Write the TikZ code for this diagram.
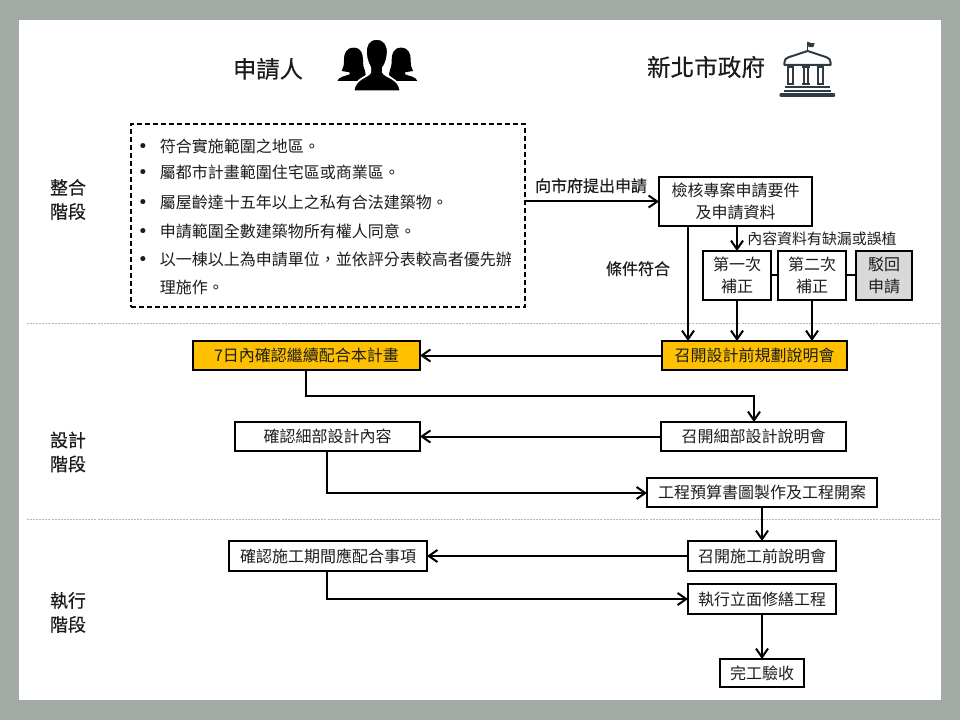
\documentclass[tikz,border=0pt]{standalone}
\usepackage{fontspec}
\setmainfont{Noto Sans CJK TC}
\newfontfamily\heavyfont[FakeBold=0.45]{Noto Sans CJK TC}
\newfontfamily\dotfont{DejaVu Sans}
\usetikzlibrary{arrows.meta}
\definecolor{bggrey}{HTML}{A3ABA4}
\definecolor{amber}{HTML}{FFC000}
\definecolor{rejectgrey}{HTML}{D9D9D9}
\definecolor{ink}{HTML}{1C1C1C}
\definecolor{slate}{HTML}{2F3B42}
\newcommand{\pxbox}[7][]{\node[flowbox,#1,minimum width={(#4-#2)*0.75pt},minimum height={(#5-#3)*0.75pt}] (#6) at ({(#2+#4)/2},{(#3+#5)/2}) {#7};}
\tikzset{
  flowbox/.style={draw=black,line width=1.5pt,fill=white,align=center,inner sep=0pt,outer sep=0pt,font=\fontsize{12}{16}\selectfont,text=ink},
  conn/.style={draw=black,line width=1.5pt,-{Straight Barb[length=6.5pt,width=9pt,line width=1.5pt]}},
  plainconn/.style={draw=black,line width=1.5pt},
  lbl/.style={inner sep=0pt,text=ink,text height=10pt,text depth=2pt,font=\fontsize{12}{16}\selectfont},
  heavylbl/.style={lbl,font=\fontsize{12}{16}\selectfont\heavyfont},
  phase/.style={inner sep=0pt,text=ink,align=center,font=\fontsize{13.5}{18}\selectfont\heavyfont},
  bullettxt/.style={inner sep=0pt,anchor=west,text=ink,text height=10pt,text depth=2pt,font=\fontsize{12}{16}\selectfont},
  divider/.style={draw=black!28,line width=0.6pt,dash pattern=on 1.5pt off 0.8pt},
}
\begin{document}
\begin{tikzpicture}[x=0.75pt,y=-0.75pt]
\useasboundingbox (0,0) rectangle (960,720);
\fill[bggrey] (0,0) rectangle (960,720);
\fill[white] (19,20) rectangle (941,700);
% dividers
\draw[divider] (27,323) -- (941,323);
\draw[divider] (27,519) -- (941,519);
% headers
\node[inner sep=0pt,text=ink,font=\fontsize{17.5}{20}\selectfont\heavyfont] (hApplicant) at (268,69) {申請人};
\node[inner sep=0pt,text=ink,font=\fontsize{17.7}{20}\selectfont\heavyfont] (hGov) at (706,67) {新北市政府};
% people icon
\begin{scope}[shift={(335,35)},x=0.25pt,y=-0.25pt]
  \foreach \s/\o in {1/0,-1/254}{
    \begin{scope}[shift={(\o,0)},x=\s*0.25pt]
    \fill[black] (56,38) .. controls (34,38) and (26,56) .. (27,75)
      .. controls (27,90) and (25,100) .. (20,108)
      -- (44,112) -- (44,118) .. controls (30,124) and (12,124) .. (7,138)
      -- (72,138) -- (92,120) -- (90,108)
      .. controls (86,100) and (84,90) .. (84,75)
      .. controls (84,56) and (78,38) .. (56,38) -- cycle;
    \end{scope}
  }
  \filldraw[black,draw=white,line width=1.3pt] (125,12) .. controls (100,12) and (91,32) .. (93,55)
    .. controls (94,76) and (102,90) .. (106,98) -- (106,112)
    .. controls (98,128) and (60,128) .. (55,169) -- (197,169)
    .. controls (192,128) and (152,128) .. (144,112) -- (144,98)
    .. controls (150,90) and (157,76) .. (158,55)
    .. controls (160,32) and (150,12) .. (125,12) -- cycle;
\end{scope}
% building icon
\begin{scope}[shift={(775,35)},x=0.25pt,y=-0.25pt]
  \draw[slate,line width=1.2pt] (98,20) -- (98,48);
  \fill[slate] (98,20) .. controls (105,24) and (110,26) .. (119,24) -- (115,36) .. controls (108,38) and (104,36) .. (98,34) -- cycle;
  \draw[slate,line width=1.5pt,line join=round] (28,84) .. controls (28,74) and (32,70) .. (40,67) -- (98,48) -- (155,67) .. controls (163,70) and (167,74) .. (167,84) -- (167,90) -- (28,90) -- cycle;
  \foreach \c in {47,93,136}{
    \draw[slate,line width=1.3pt] (\c-11,97) -- (\c+11,97) (\c-7,97) -- (\c-7,148) (\c+7,97) -- (\c+7,148) (\c-11,148) -- (\c+11,148);
  }
  \draw[slate,line width=1.6pt] (30,156) -- (165,156);
  \draw[slate,line width=1.6pt] (26,167) -- (169,167);
  \draw[slate,line width=2.4pt,line cap=round] (18,180) -- (176,180);
\end{scope}
% phase labels
\node[phase] (p1) at (68,199.5) {整合\\階段};
\node[phase] (p2) at (68,452) {設計\\階段};
\node[phase] (p3) at (68,612.5) {執行\\階段};
% criteria box
\node[draw=black,line width=1.5pt,dash pattern=on 4.1pt off 1.9pt,fill=none,inner sep=0pt,outer sep=0pt,minimum width={394*0.75pt},minimum height={183*0.75pt}] (crit) at (328,215.5) {};
\foreach \n/\yy/\t in {a/147/符合實施範圍之地區。,b/173.5/屬都市計畫範圍住宅區或商業區。,c/203/屬屋齡達十五年以上之私有合法建築物。,d/232/申請範圍全數建築物所有權人同意。,e/260.5/以一棟以上為申請單位，並依評分表較高者優先辦}{
  \node[inner sep=0pt,anchor=base,text=ink,font=\fontsize{13}{16}\selectfont\dotfont] (dot\n) at (143,\yy+5.5) {•};
  \node[bullettxt] (crit\n) at (159.5,\yy) {\t};
}
\node[bullettxt] (critf) at (159.5,288.5) {理施作。};
% boxes
\pxbox{659}{177}{812}{226}{check}{檢核專案申請要件\\及申請資料}
\pxbox{703}{251}{771}{300}{first}{第一次\\補正}
\pxbox{778}{251}{846}{300}{second}{第二次\\補正}
\pxbox[fill=rejectgrey]{856}{251}{912}{300}{reject}{駁回\\申請}
\pxbox[fill=amber]{662}{341}{847}{370}{prelim}{召開設計前規劃說明會}
\pxbox[fill=amber]{193}{341}{420}{370}{seven}{7日內確認繼續配合本計畫}
\pxbox{235}{422}{420}{451}{confirmd}{確認細部設計內容}
\pxbox{661}{422}{846}{451}{detail}{召開細部設計說明會}
\pxbox{647}{478}{877}{507}{budget}{工程預算書圖製作及工程開案}
\pxbox{229}{541}{427}{571}{confirmc}{確認施工期間應配合事項}
\pxbox{688}{541}{836}{571}{precon}{召開施工前說明會}
\pxbox{688}{584}{836}{614}{exec}{執行立面修繕工程}
\pxbox{720}{659}{804}{687}{done}{完工驗收}
% free labels
\node[heavylbl] (lsubmit) at (591,186.5) {向市府提出申請};
\node[lbl,font=\fontsize{11.2}{14}\selectfont] (lmissing) at (822,239) {內容資料有缺漏或誤植};
\node[heavylbl] (lok) at (638,269.5) {條件符合};
% junction coordinates
\coordinate (xa) at (688,0);
\coordinate (xb) at (306,396);
\coordinate (xc) at (327,493);
\coordinate (xd) at (327,599);
\coordinate (xe) at (762,0);
% connectors
\draw[conn] (check.west -| crit.east) -- (check.west);
\draw[conn] (check.south -| xa) -- (prelim.north -| xa);
\draw[conn] (check.south -| first.north) -- (first.north);
\draw[plainconn] (first.east) -- (second.west);
\draw[plainconn] (second.east) -- (reject.west);
\draw[conn] (first.south) -- (prelim.north -| first.south);
\draw[conn] (second.south) -- (prelim.north -| second.south);
\draw[conn] (prelim.west) -- (seven.east);
\draw[conn] (seven.south -| xb) -- (xb) -| (detail.north -| 754,0);
\draw[conn] (detail.west) -- (confirmd.east);
\draw[conn] (confirmd.south -| xc) -- (xc) -- (budget.west |- xc);
\draw[conn] (budget.south -| xe) -- (precon.north -| xe);
\draw[conn] (precon.west) -- (confirmc.east);
\draw[conn] (confirmc.south -| xd) -- (xd) -- (exec.west |- xd);
\draw[conn] (exec.south -| xe) -- (done.north -| xe);
\end{tikzpicture}
\end{document}
